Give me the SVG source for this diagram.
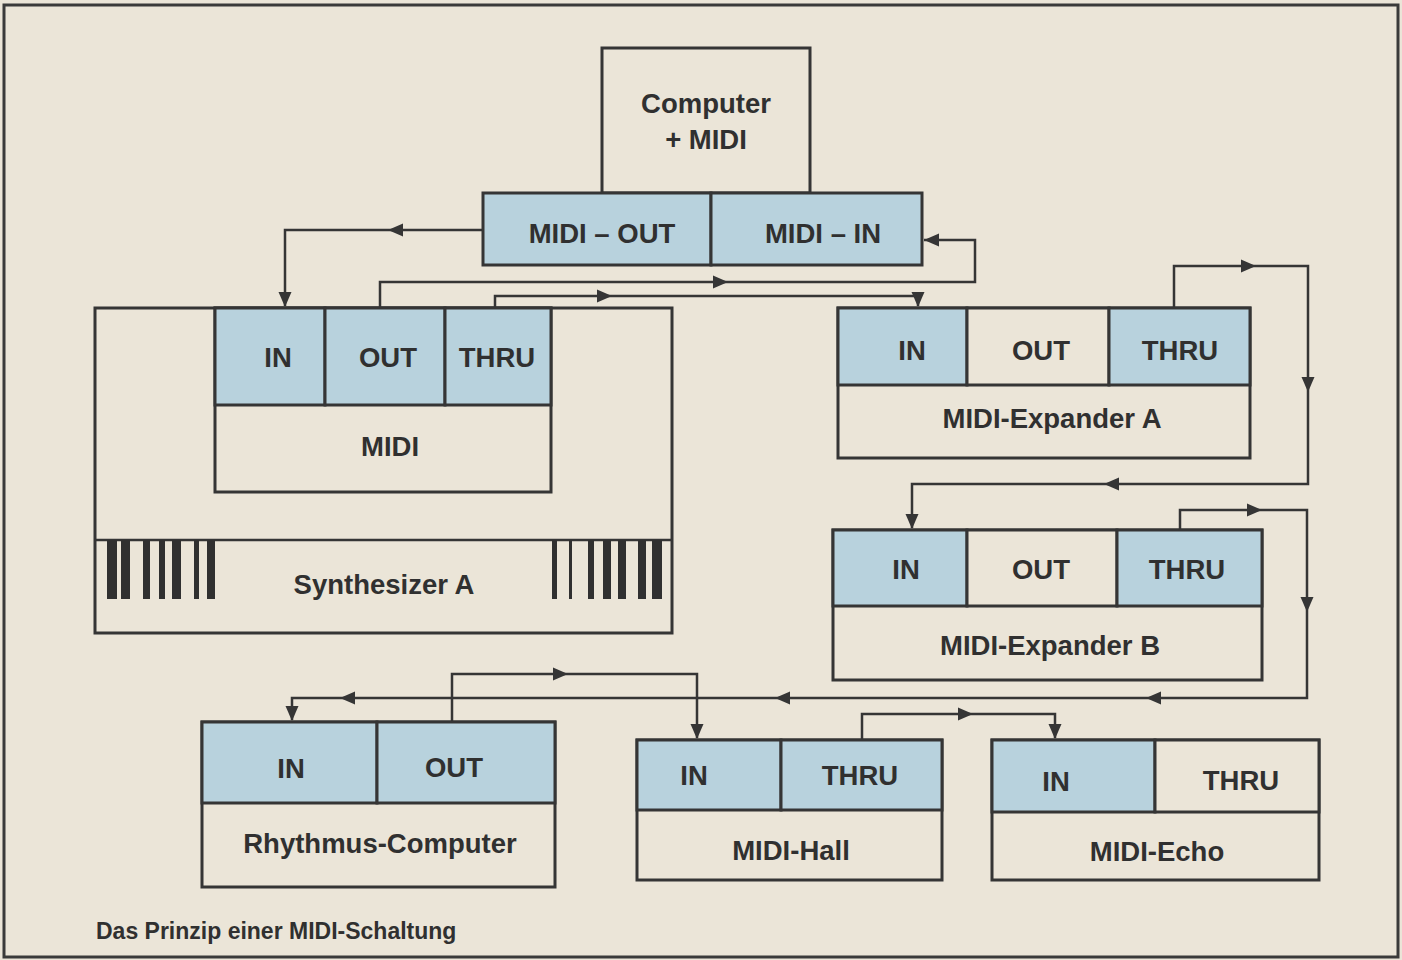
<svg xmlns="http://www.w3.org/2000/svg" width="1402" height="960" viewBox="0 0 1402 960">
<defs>
<style>
.bg{fill:#ebe5d8}
.box{fill:#ebe5d8;stroke:#353535;stroke-width:3}
.blue{fill:#b8d2dd;stroke:#353535;stroke-width:3}
.ln{fill:none;stroke:#353535;stroke-width:2.5}
.t{font-family:"Liberation Sans",Arial,sans-serif;font-weight:bold;font-size:27.5px;fill:#303030;text-anchor:middle}
.cap{font-family:"Liberation Sans",Arial,sans-serif;font-weight:bold;font-size:23px;fill:#303030}
.key{fill:#303030}
.ah{fill:#353535}
</style>
<path id="ah" d="M0,0 L-15,-6.5 L-15,6.5 Z"/>
</defs>
<rect class="bg" x="0" y="0" width="1402" height="960"/>
<rect x="4" y="5" width="1394" height="952" fill="none" stroke="#3a3a3a" stroke-width="3"/>

<g id="connectors">
<!-- MIDI-OUT to Synth IN -->
<polyline class="ln" points="483,230 285,230 285,306"/>
<use href="#ah" class="ah" transform="translate(388,230) rotate(180)"/>
<use href="#ah" class="ah" transform="translate(285,307) rotate(90)"/>
<!-- Synth OUT to MIDI-IN -->
<polyline class="ln" points="380,308 380,282 975,282 975,240 924,240"/>
<use href="#ah" class="ah" transform="translate(728,282)"/>
<use href="#ah" class="ah" transform="translate(924,240) rotate(180)"/>
<!-- Synth THRU to Expander A IN -->
<polyline class="ln" points="495,308 495,296 918,296 918,306"/>
<use href="#ah" class="ah" transform="translate(612,296)"/>
<use href="#ah" class="ah" transform="translate(918,307) rotate(90)"/>
<!-- Expander A THRU to Expander B IN -->
<polyline class="ln" points="1174,308 1174,266 1308,266 1308,484 912,484 912,528"/>
<use href="#ah" class="ah" transform="translate(1256,266)"/>
<use href="#ah" class="ah" transform="translate(1308,392) rotate(90)"/>
<use href="#ah" class="ah" transform="translate(1104,484) rotate(180)"/>
<use href="#ah" class="ah" transform="translate(912,529) rotate(90)"/>
<!-- Expander B THRU to Rhythmus IN -->
<polyline class="ln" points="1180,530 1180,510 1307,510 1307,698 292,698 292,720"/>
<use href="#ah" class="ah" transform="translate(1262,510)"/>
<use href="#ah" class="ah" transform="translate(1307,612) rotate(90)"/>
<use href="#ah" class="ah" transform="translate(1146,698) rotate(180)"/>
<use href="#ah" class="ah" transform="translate(775,698) rotate(180)"/>
<use href="#ah" class="ah" transform="translate(340,698) rotate(180)"/>
<use href="#ah" class="ah" transform="translate(292,721) rotate(90)"/>
<!-- Rhythmus OUT to Hall IN -->
<polyline class="ln" points="452,722 452,674 697,674 697,738"/>
<use href="#ah" class="ah" transform="translate(568,674)"/>
<use href="#ah" class="ah" transform="translate(697,739) rotate(90)"/>
<!-- Hall THRU to Echo IN -->
<polyline class="ln" points="862,740 862,714 1055,714 1055,738"/>
<use href="#ah" class="ah" transform="translate(973,714)"/>
<use href="#ah" class="ah" transform="translate(1055,739) rotate(90)"/>
</g>

<g id="computer">
<rect class="box" x="602" y="48" width="208" height="145"/>
<text class="t" x="706" y="113">Computer</text>
<text class="t" x="706" y="149">+ MIDI</text>
<rect class="blue" x="483" y="193" width="228" height="72"/>
<rect class="blue" x="711" y="193" width="211" height="72"/>
<text class="t" x="602" y="243">MIDI – OUT</text>
<text class="t" x="823" y="243">MIDI – IN</text>
</g>

<g id="synthesizer-a">
<rect class="box" x="95" y="308" width="577" height="325"/>
<line class="ln" x1="95" y1="540" x2="672" y2="540" stroke-width="3"/>
<rect class="box" x="215" y="308" width="336" height="184"/>
<rect class="blue" x="215" y="308" width="110" height="97"/>
<rect class="blue" x="325" y="308" width="120" height="97"/>
<rect class="blue" x="445" y="308" width="106" height="97"/>
<text class="t" x="278" y="367">IN</text>
<text class="t" x="388" y="367">OUT</text>
<text class="t" x="497" y="367">THRU</text>
<text class="t" x="390" y="456">MIDI</text>
<g class="key">
<rect x="107" y="540" width="10" height="59"/>
<rect x="121" y="540" width="9" height="59"/>
<rect x="143" y="540" width="7" height="59"/>
<rect x="159" y="540" width="6" height="59"/>
<rect x="172" y="540" width="9" height="59"/>
<rect x="194" y="540" width="5" height="59"/>
<rect x="207" y="540" width="8" height="59"/>
<rect x="552" y="540" width="5" height="59"/>
<rect x="569" y="540" width="3" height="59"/>
<rect x="588" y="540" width="6" height="59"/>
<rect x="603" y="540" width="8" height="59"/>
<rect x="618" y="540" width="8" height="59"/>
<rect x="638" y="540" width="8" height="59"/>
<rect x="652" y="540" width="10" height="59"/>
</g>
<text class="t" x="384" y="594">Synthesizer A</text>
</g>

<g id="expander-a">
<rect class="box" x="838" y="308" width="412" height="150"/>
<rect class="blue" x="838" y="308" width="129" height="77"/>
<rect class="box" x="967" y="308" width="142" height="77"/>
<rect class="blue" x="1109" y="308" width="141" height="77"/>
<text class="t" x="912" y="360">IN</text>
<text class="t" x="1041" y="360">OUT</text>
<text class="t" x="1180" y="360">THRU</text>
<text class="t" x="1052" y="428">MIDI-Expander A</text>
</g>

<g id="expander-b">
<rect class="box" x="833" y="530" width="429" height="150"/>
<rect class="blue" x="833" y="530" width="134" height="76"/>
<rect class="box" x="967" y="530" width="150" height="76"/>
<rect class="blue" x="1117" y="530" width="145" height="76"/>
<text class="t" x="906" y="579">IN</text>
<text class="t" x="1041" y="579">OUT</text>
<text class="t" x="1187" y="579">THRU</text>
<text class="t" x="1050" y="655">MIDI-Expander B</text>
</g>

<g id="rhythmus-computer">
<rect class="box" x="202" y="722" width="353" height="165"/>
<rect class="blue" x="202" y="722" width="175" height="81"/>
<rect class="blue" x="377" y="722" width="178" height="81"/>
<text class="t" x="291" y="778">IN</text>
<text class="t" x="454" y="777">OUT</text>
<text class="t" x="380" y="853">Rhythmus-Computer</text>
</g>

<g id="midi-hall">
<rect class="box" x="637" y="740" width="305" height="140"/>
<rect class="blue" x="637" y="740" width="144" height="70"/>
<rect class="blue" x="781" y="740" width="161" height="70"/>
<text class="t" x="694" y="785">IN</text>
<text class="t" x="860" y="785">THRU</text>
<text class="t" x="791" y="860">MIDI-Hall</text>
</g>

<g id="midi-echo">
<rect class="box" x="992" y="740" width="327" height="140"/>
<rect class="blue" x="992" y="740" width="163" height="72"/>
<rect class="box" x="1155" y="740" width="164" height="72"/>
<text class="t" x="1056" y="791">IN</text>
<text class="t" x="1241" y="790">THRU</text>
<text class="t" x="1157" y="861">MIDI-Echo</text>
</g>

<text class="cap" x="96" y="939">Das Prinzip einer MIDI-Schaltung</text>
</svg>
